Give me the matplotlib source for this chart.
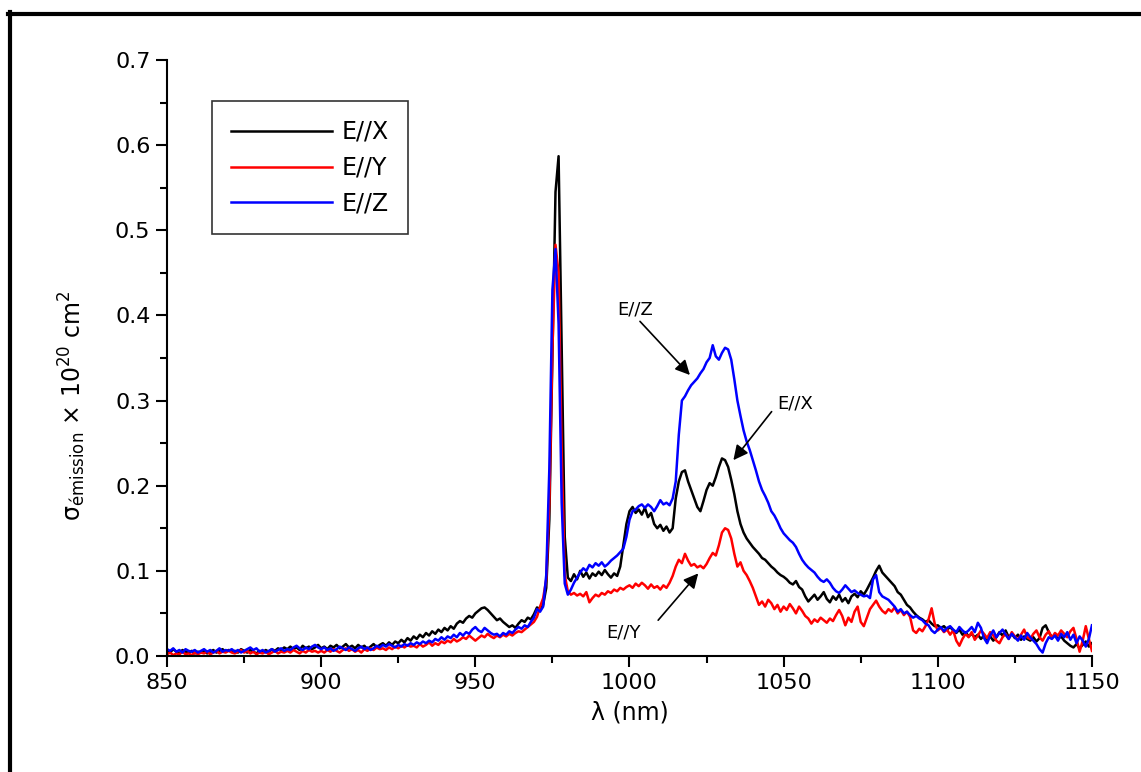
import numpy as np
import matplotlib
matplotlib.use("Agg")
import matplotlib.pyplot as plt
from matplotlib.lines import Line2D
from matplotlib.ticker import MultipleLocator

# Wavelength grid (nm), 1 nm step
wavelength = np.arange(850, 1151)

# Emission cross-section (x 1e-20 cm^2), polarisation E//X
sigma_x = [
    0.006, 0.004, 0.008, 0.005, 0.003, 0.007, 0.005, 0.004, 0.006, 0.003,
    0.005, 0.004, 0.006, 0.003, 0.005, 0.007, 0.004, 0.006, 0.008, 0.005,
    0.007, 0.005, 0.006, 0.004, 0.008, 0.006, 0.004, 0.007, 0.005, 0.003,
    0.006, 0.004, 0.007, 0.005, 0.008, 0.006, 0.009, 0.007, 0.010, 0.008,
    0.011, 0.008, 0.010, 0.007, 0.012, 0.009, 0.011, 0.008, 0.010, 0.013,
    0.009, 0.011, 0.008, 0.012, 0.010, 0.013, 0.009, 0.011, 0.014, 0.010,
    0.012, 0.009, 0.013, 0.010, 0.012, 0.008, 0.011, 0.014, 0.010, 0.013,
    0.015, 0.012, 0.016, 0.013, 0.017, 0.015, 0.019, 0.016, 0.021, 0.018,
    0.023, 0.020, 0.025, 0.022, 0.027, 0.024, 0.029, 0.026, 0.031, 0.028,
    0.033, 0.030, 0.035, 0.032, 0.038, 0.041, 0.039, 0.044, 0.047, 0.045,
    0.050, 0.053, 0.056, 0.057, 0.054, 0.050, 0.046, 0.042, 0.044, 0.040,
    0.037, 0.034, 0.036, 0.033, 0.038, 0.042, 0.040, 0.045, 0.043, 0.049,
    0.057, 0.055, 0.060, 0.080, 0.160, 0.350, 0.545, 0.587, 0.360, 0.140,
    0.092, 0.088, 0.096, 0.090, 0.100, 0.093, 0.098, 0.091, 0.097, 0.094,
    0.099, 0.095, 0.101, 0.096, 0.092, 0.097, 0.094, 0.105, 0.130, 0.155,
    0.170, 0.175, 0.168, 0.172, 0.166, 0.174, 0.163, 0.168, 0.155, 0.150,
    0.154, 0.147, 0.152, 0.145, 0.150, 0.185, 0.205, 0.216, 0.218, 0.205,
    0.195, 0.185, 0.175, 0.170, 0.182, 0.195, 0.203, 0.200, 0.210, 0.222,
    0.232, 0.230, 0.222, 0.207, 0.190, 0.170, 0.155, 0.145, 0.138, 0.133,
    0.128, 0.124, 0.120, 0.115, 0.113, 0.109, 0.105, 0.102, 0.098, 0.095,
    0.093, 0.090, 0.086, 0.084, 0.088, 0.081, 0.078, 0.070, 0.064, 0.068,
    0.072, 0.066, 0.070, 0.075, 0.067, 0.063, 0.070, 0.066, 0.072, 0.064,
    0.068, 0.062, 0.070, 0.073, 0.069, 0.076, 0.072, 0.078, 0.085, 0.092,
    0.100, 0.106, 0.098, 0.094, 0.090, 0.086, 0.082, 0.075, 0.072, 0.066,
    0.060, 0.057, 0.052, 0.048, 0.045, 0.043, 0.040, 0.042, 0.038, 0.035,
    0.036, 0.033, 0.035, 0.031, 0.034, 0.030, 0.027, 0.031, 0.025, 0.028,
    0.023, 0.026, 0.022, 0.025, 0.020, 0.024, 0.019, 0.023, 0.018, 0.022,
    0.028, 0.024, 0.030, 0.022, 0.026, 0.021, 0.025, 0.019, 0.023, 0.020,
    0.018, 0.022, 0.017, 0.021, 0.033, 0.036, 0.028, 0.022, 0.025, 0.020,
    0.023, 0.018, 0.015, 0.012, 0.010, 0.014, 0.009, 0.013, 0.017, 0.011, 0.015,
]

# Polarisation E//Y
sigma_y = [
    0.002, 0.004, 0.001, 0.003, 0.002, 0.005, 0.002, 0.003, 0.001, 0.004,
    0.002, 0.004, 0.003, 0.005, 0.002, 0.004, 0.006, 0.003, 0.005, 0.004,
    0.006, 0.004, 0.003, 0.005, 0.007, 0.004, 0.006, 0.003, 0.005, 0.002,
    0.004, 0.003, 0.005, 0.002, 0.004, 0.006, 0.003, 0.005, 0.004, 0.006,
    0.004, 0.007, 0.005, 0.003, 0.006, 0.004, 0.007, 0.005, 0.006, 0.004,
    0.006, 0.004, 0.007, 0.005, 0.008, 0.006, 0.004, 0.007, 0.009, 0.006,
    0.008, 0.005, 0.007, 0.004, 0.008, 0.006, 0.009, 0.007, 0.010, 0.008,
    0.009, 0.007, 0.010, 0.008, 0.011, 0.009, 0.012, 0.010, 0.013, 0.011,
    0.012, 0.010, 0.014, 0.011, 0.013, 0.016, 0.012, 0.015, 0.013, 0.017,
    0.015, 0.018, 0.016, 0.020, 0.017, 0.019, 0.022, 0.020, 0.024, 0.021,
    0.018, 0.021, 0.024, 0.022, 0.026, 0.023, 0.021, 0.024, 0.022, 0.025,
    0.023, 0.026, 0.024, 0.027, 0.029, 0.028, 0.031, 0.034, 0.037, 0.040,
    0.046, 0.058, 0.068, 0.090, 0.180, 0.360, 0.483, 0.450, 0.240, 0.095,
    0.076, 0.072, 0.074, 0.071, 0.073, 0.070, 0.075, 0.063, 0.068, 0.072,
    0.070, 0.074, 0.072, 0.076, 0.074, 0.078, 0.076, 0.080, 0.078, 0.081,
    0.083, 0.080, 0.085, 0.082, 0.086, 0.083, 0.079, 0.084, 0.080, 0.082,
    0.078, 0.083, 0.080, 0.086, 0.094, 0.105, 0.113, 0.109, 0.120, 0.112,
    0.106, 0.108, 0.104, 0.106, 0.103, 0.108, 0.115, 0.121, 0.118, 0.130,
    0.145, 0.150, 0.148, 0.138, 0.120, 0.105, 0.110, 0.100, 0.095, 0.088,
    0.080, 0.070, 0.060, 0.064, 0.058, 0.066, 0.062, 0.055, 0.060, 0.052,
    0.058, 0.054, 0.061, 0.056, 0.050, 0.058, 0.053, 0.047, 0.044, 0.038,
    0.043, 0.040, 0.045, 0.042, 0.039, 0.044, 0.041, 0.048, 0.054, 0.047,
    0.036, 0.045, 0.040, 0.052, 0.058, 0.040, 0.035, 0.045, 0.055, 0.060,
    0.065, 0.058, 0.053, 0.050, 0.055, 0.052, 0.057, 0.050, 0.054, 0.048,
    0.052, 0.046, 0.030, 0.027, 0.032, 0.029, 0.035, 0.043, 0.056, 0.038,
    0.030, 0.033, 0.028, 0.031, 0.025, 0.030, 0.018, 0.012, 0.020, 0.026,
    0.022, 0.028, 0.019, 0.024, 0.030, 0.026, 0.021, 0.028, 0.024, 0.018,
    0.015, 0.022, 0.026, 0.020, 0.028, 0.023, 0.019, 0.025, 0.031, 0.022,
    0.020, 0.026, 0.030, 0.022, 0.018, 0.025, 0.029, 0.021, 0.027, 0.024,
    0.030, 0.026, 0.022, 0.029, 0.033, 0.020, 0.005, 0.018, 0.035, 0.020, 0.006,
]

# Polarisation E//Z
sigma_z = [
    0.008, 0.006, 0.009, 0.005, 0.007, 0.004, 0.008, 0.006, 0.005, 0.007,
    0.004, 0.006, 0.008, 0.005, 0.007, 0.004, 0.006, 0.009, 0.005, 0.007,
    0.006, 0.008, 0.005, 0.007, 0.004, 0.006, 0.008, 0.010, 0.007, 0.009,
    0.005, 0.007, 0.004, 0.006, 0.008, 0.005, 0.007, 0.009, 0.006, 0.008,
    0.007, 0.010, 0.012, 0.009, 0.007, 0.010, 0.008, 0.011, 0.013, 0.010,
    0.008, 0.010, 0.007, 0.009, 0.006, 0.008, 0.011, 0.009, 0.007, 0.010,
    0.008, 0.006, 0.009, 0.011, 0.008, 0.010, 0.007, 0.009, 0.012, 0.010,
    0.013, 0.011, 0.014, 0.012, 0.010, 0.013, 0.011, 0.014, 0.012, 0.015,
    0.013, 0.016, 0.014, 0.017, 0.015, 0.018, 0.016, 0.020, 0.018, 0.022,
    0.019, 0.023, 0.021, 0.025, 0.022, 0.027, 0.024, 0.028, 0.026, 0.031,
    0.034, 0.030, 0.028, 0.033, 0.030, 0.027, 0.025, 0.026, 0.023, 0.027,
    0.025, 0.029, 0.027, 0.031, 0.034, 0.032, 0.036, 0.034, 0.040, 0.045,
    0.055, 0.052, 0.058, 0.095, 0.220, 0.430, 0.478, 0.390, 0.180, 0.085,
    0.072, 0.078, 0.086, 0.092, 0.098, 0.103, 0.100, 0.107, 0.104, 0.109,
    0.106, 0.110, 0.105, 0.108, 0.112, 0.115, 0.118, 0.122, 0.126, 0.140,
    0.160, 0.170, 0.172, 0.176, 0.178, 0.174, 0.178, 0.175, 0.170, 0.176,
    0.183, 0.178, 0.180, 0.177, 0.185, 0.205, 0.260, 0.300, 0.305, 0.312,
    0.318, 0.322, 0.326, 0.332, 0.337, 0.345, 0.350, 0.365, 0.352, 0.348,
    0.356, 0.362, 0.360, 0.348, 0.325, 0.300, 0.282, 0.265, 0.252, 0.242,
    0.230, 0.218, 0.205, 0.195, 0.188, 0.180, 0.170, 0.165, 0.158, 0.150,
    0.144, 0.140, 0.136, 0.133, 0.128, 0.120, 0.113, 0.108, 0.104, 0.101,
    0.098, 0.093, 0.089, 0.087, 0.090, 0.086, 0.080, 0.076, 0.074, 0.078,
    0.083, 0.079, 0.075, 0.077, 0.074, 0.072, 0.070, 0.071, 0.068, 0.090,
    0.095, 0.075, 0.070, 0.068, 0.066, 0.062, 0.058, 0.052, 0.055, 0.050,
    0.052, 0.048, 0.045, 0.047, 0.044, 0.042, 0.038, 0.036, 0.030, 0.027,
    0.031, 0.034, 0.029, 0.033, 0.035, 0.031, 0.028, 0.034, 0.030, 0.027,
    0.030, 0.034, 0.028, 0.039, 0.033, 0.021, 0.015, 0.024, 0.030, 0.022,
    0.027, 0.031, 0.025, 0.020, 0.026, 0.022, 0.018, 0.024, 0.019, 0.027,
    0.022, 0.018, 0.014, 0.008, 0.004, 0.015, 0.022, 0.020, 0.024, 0.018,
    0.026, 0.022, 0.028, 0.019, 0.025, 0.015, 0.023, 0.018, 0.011, 0.020, 0.036,
]

series_labels = ["E//X", "E//Y", "E//Z"]
series_colors = ["black", "#ff0000", "#0000ff"]

plt.rcParams['font.family'] = ['DejaVu Sans']

fig = plt.figure(figsize=(11.41, 7.72), dpi=100)
ax = fig.add_axes([0.1464, 0.1503, 0.8106, 0.772])

for vals, lab, col in zip([sigma_x, sigma_y, sigma_z], series_labels, series_colors):
    ax.plot(wavelength, vals, color=col, lw=1.8, label=lab)

ax.set_xlim(850, 1150)
ax.set_ylim(0, 0.7)
ax.xaxis.set_major_locator(MultipleLocator(50))
ax.xaxis.set_minor_locator(MultipleLocator(25))
ax.yaxis.set_major_locator(MultipleLocator(0.1))
ax.yaxis.set_minor_locator(MultipleLocator(0.05))
ax.yaxis.set_major_formatter(plt.FormatStrFormatter('%.1f'))

for s in ['top', 'right']:
    ax.spines[s].set_visible(False)
for s in ['left', 'bottom']:
    ax.spines[s].set_linewidth(1.5)
ax.tick_params(which='major', direction='out', length=8, width=1.5, labelsize=16, pad=4)
ax.tick_params(which='minor', direction='out', length=5, width=1.5)

ax.set_xlabel('λ (nm)', fontsize=17, labelpad=6)
ax.set_ylabel(r'σ$_{\mathregular{émission}}$ × 10$^{20}$ cm$^{2}$', fontsize=17)
ax.yaxis.set_label_coords(-0.085, 0.42)

leg = ax.legend(loc='upper left', bbox_to_anchor=(0.0486, 0.931), borderaxespad=0,
                fontsize=17, frameon=True, fancybox=False, edgecolor='black',
                handlelength=4.3, handletextpad=0.4, borderpad=0.8, labelspacing=0.5)
leg.get_frame().set_linewidth(1.2)

arrow = dict(arrowstyle='-|>', color='black', lw=1.2, mutation_scale=22,
             shrinkA=0, shrinkB=0)
ax.text(1001.8, 0.407, 'E//Z', fontsize=13, ha='center', va='center')
ax.annotate('', xy=(1019.6, 0.330), xytext=(1003.4, 0.393), arrowprops=arrow)
ax.text(1053.7, 0.297, 'E//X', fontsize=13, ha='center', va='center')
ax.annotate('', xy=(1033.7, 0.230), xytext=(1046.1, 0.287), arrowprops=arrow)
ax.text(997.9, 0.028, 'E//Y', fontsize=13, ha='center', va='center')
ax.annotate('', xy=(1022.3, 0.097), xytext=(1009.3, 0.042), arrowprops=arrow)

# Frame along the left and top edges of the figure
W, H = 1141, 772
fig.add_artist(Line2D([9.5 / W, 9.5 / W], [0, 1 - 12 / H], color='black', lw=3,
                      transform=fig.transFigure))
fig.add_artist(Line2D([8 / W, 1], [1 - 14 / H, 1 - 14 / H], color='black', lw=3,
                      transform=fig.transFigure))

fig.savefig('out.png', dpi=100)
